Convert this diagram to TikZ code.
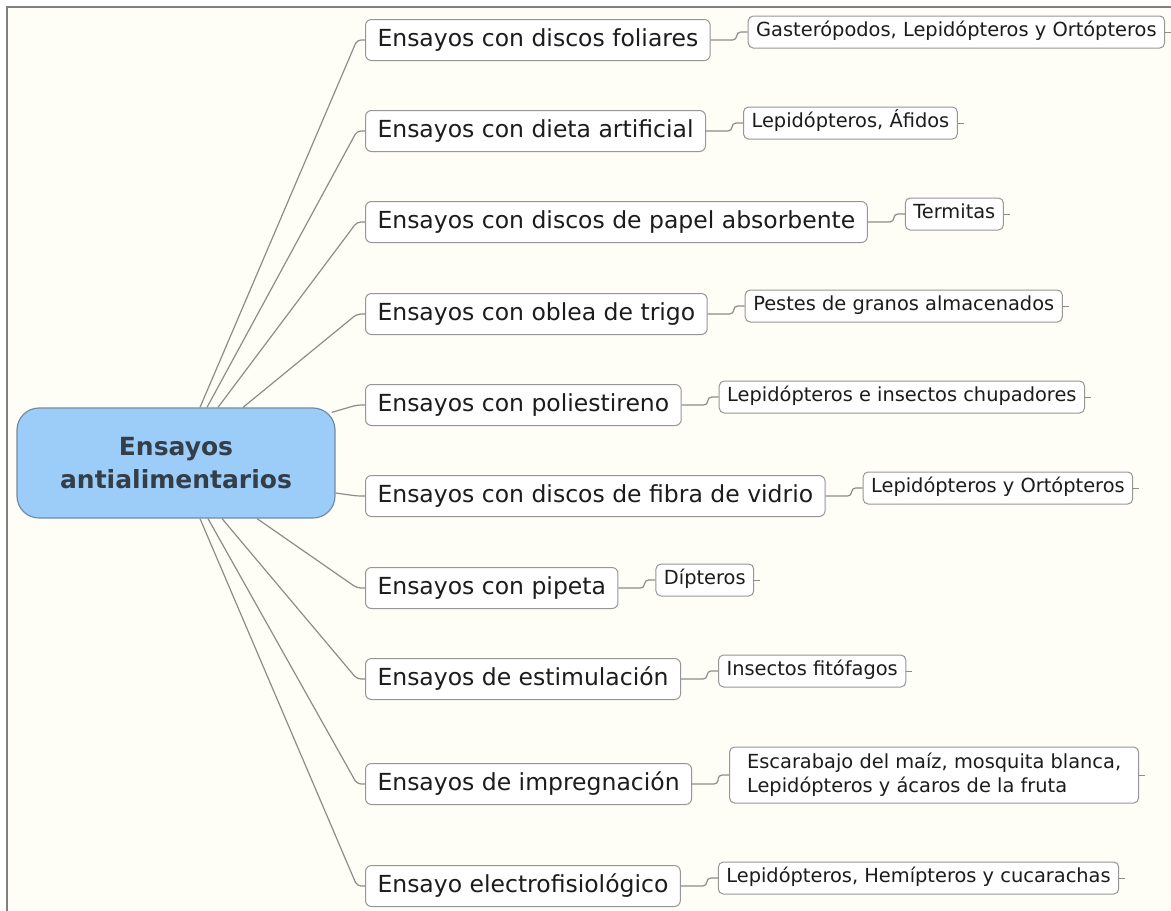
\documentclass[tikz,border=0pt]{standalone}
\usepackage{fontspec}
\setmainfont{DejaVu Sans}
\usetikzlibrary{positioning,calc}
\definecolor{paper}{RGB}{254,254,246}
\definecolor{frame}{RGB}{128,128,128}
\definecolor{rootblue}{RGB}{156,204,248}
\definecolor{rootedge}{RGB}{112,140,168}
\definecolor{rootink}{RGB}{52,62,72}
\definecolor{boxedge}{RGB}{150,150,150}
\definecolor{twig}{RGB}{140,140,140}
\definecolor{ink}{RGB}{28,28,28}

\begin{document}
\begin{tikzpicture}[x=1pt, y=-1pt,
    rootnode/.style={draw=rootedge, line width=1.2pt, fill=rootblue, rounded corners=22pt,
      minimum width=318pt, minimum height=110pt, align=center, text=rootink,
      font=\fontsize{25}{33}\selectfont\bfseries},
    topic/.style={draw=boxedge, line width=1pt, fill=white, rounded corners=6pt,
      anchor=west, inner xsep=12pt, inner ysep=0pt, minimum height=41pt,
      text height=17pt, text depth=5pt, text=ink, font=\fontsize{23.5}{28}\selectfont},
    leaf/.style={draw=boxedge, line width=1pt, fill=white, rounded corners=5pt,
      inner xsep=8pt, inner ysep=0pt, minimum height=32pt,
      text height=14pt, text depth=4.5pt, text=ink, font=\fontsize{19.4}{24}\selectfont},
    leafwide/.style={leaf, text height=, text depth=, align=left,
      minimum height=56pt, minimum width=409pt},
    branch/.style={draw=twig, line width=1.2pt, rounded corners=4pt},
    tick/.style={draw=twig, line width=1pt}]

  \useasboundingbox (0,0) rectangle (1171,911);
  \fill[white] (0,0) rectangle (1171,911);
  \fill[paper] (7,7) rectangle (1171,911);
  \draw[frame, line width=2pt] (7,911) -- (7,7) -- (1171,7);

  \node[rootnode] (root) at (176,463) {Ensayos\\antialimentarios};

  \node[topic] (b1) at (365,40) {Ensayos con discos foliares};
  \node[topic] (b2) at (365,131) {Ensayos con dieta artificial};
  \node[topic] (b3) at (365,222) {Ensayos con discos de papel absorbente};
  \node[topic] (b4) at (365,314) {Ensayos con oblea de trigo};
  \node[topic] (b5) at (365,405) {Ensayos con poliestireno};
  \node[topic] (b6) at (365,496) {Ensayos con discos de fibra de vidrio};
  \node[topic] (b7) at (365,588) {Ensayos con pipeta};
  \node[topic] (b8) at (365,679) {Ensayos de estimulación};
  \node[topic] (b9) at (365,784) {Ensayos de impregnación};
  \node[topic] (b10) at (365,886) {Ensayo electrofisiológico};

  \node[leaf, right=37pt of b1, yshift=8pt] (l1) {Gasterópodos, Lepidópteros y Ortópteros};
  \node[leaf, right=37pt of b2, yshift=8pt] (l2) {Lepidópteros, Áfidos};
  \node[leaf, right=37pt of b3, yshift=8pt] (l3) {Termitas};
  \node[leaf, right=37pt of b4, yshift=8pt] (l4) {Pestes de granos almacenados};
  \node[leaf, right=37pt of b5, yshift=8pt] (l5) {Lepidópteros e insectos chupadores};
  \node[leaf, right=37pt of b6, yshift=8pt] (l6) {Lepidópteros y Ortópteros};
  \node[leaf, right=37pt of b7, yshift=8pt] (l7) {Dípteros};
  \node[leaf, right=37pt of b8, yshift=8pt] (l8) {Insectos fitófagos};
  \node[leafwide, right=37pt of b9, yshift=9pt] (l9) {Escarabajo del maíz, mosquita blanca,\\Lepidópteros y ácaros de la fruta};
  \node[leaf, right=37pt of b10, yshift=8pt] (l10) {Lepidópteros, Hemípteros y cucarachas};

  \draw[branch] ($(root.north)+(24,0)$) -- ($(b1.west)+(-8,0)$) -- (b1.west);
  \draw[branch] ($(root.north)+(31,0)$) -- ($(b2.west)+(-8,0)$) -- (b2.west);
  \draw[branch] ($(root.north)+(42,0)$) -- ($(b3.west)+(-8,0)$) -- (b3.west);
  \draw[branch] ($(root.north)+(67,0)$) -- ($(b4.west)+(-8,0)$) -- (b4.west);
  \draw[branch] ($(root.north east)+(-4,5)$) -- ($(b5.west)+(-8,0)$) -- (b5.west);
  \draw[branch] ($(root.east)+(0,30)$) -- ($(b6.west)+(-8,0)$) -- (b6.west);
  \draw[branch] ($(root.south)+(81,0)$) -- ($(b7.west)+(-8,0)$) -- (b7.west);
  \draw[branch] ($(root.south)+(46,0)$) -- ($(b8.west)+(-8,0)$) -- (b8.west);
  \draw[branch] ($(root.south)+(32,0)$) -- ($(b9.west)+(-8,0)$) -- (b9.west);
  \draw[branch] ($(root.south)+(24,0)$) -- ($(b10.west)+(-8,0)$) -- (b10.west);

  \foreach \i in {1,...,10} {
    \draw[branch] (b\i.east) -- ++(26,0) |- (l\i.west);
    \draw[tick] (l\i.east) -- ++(6,0);
  }
\end{tikzpicture}
\end{document}
